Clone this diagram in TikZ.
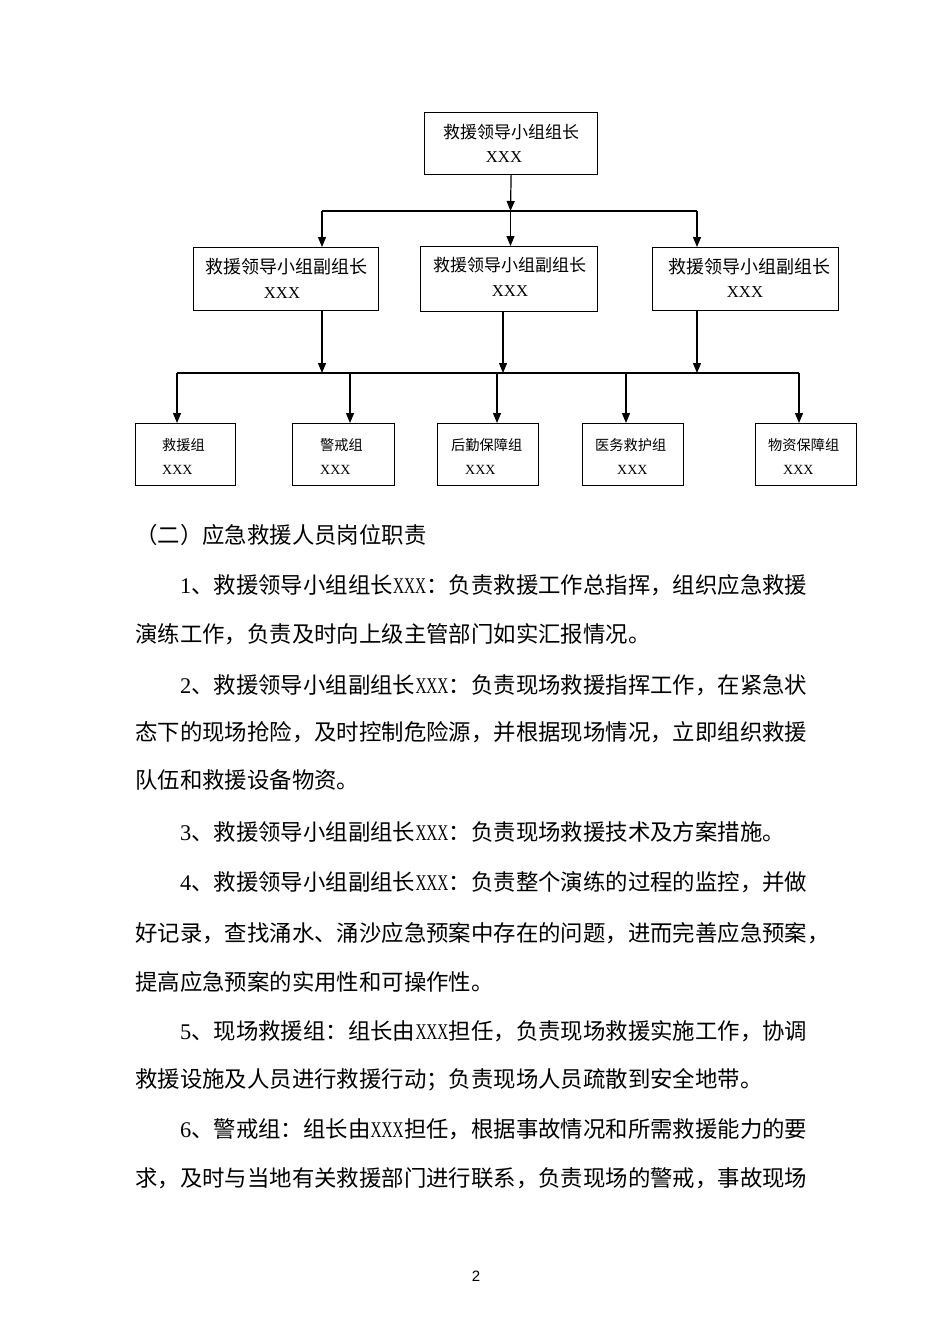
\documentclass[tikz,border=0pt]{standalone}
\usepackage{fontspec}
\usepackage{graphicx}
\setmainfont{Liberation Serif}
\newfontfamily\cjk{Noto Sans CJK SC}
\newfontfamily\pagefont{Liberation Sans}
\usetikzlibrary{arrows.meta}
\newcommand\hwd[1]{\makebox[0.5em]{\rmfamily #1}}
\newcommand\XXX{\makebox[1.5em]{\scalebox{0.68}[1]{\rmfamily XXX}}}
\begin{document}
\begin{tikzpicture}[x=1pt,y=-1pt,
  box/.style={draw,line width=1.2pt,inner sep=0pt,anchor=north west},
  conn/.style={line width=1.2pt},
  arr/.style={conn,-{Triangle[length=10pt,width=8pt]}},
  lbig/.style={inner sep=0pt,font=\cjk\fontsize{17}{20}\selectfont},
  lxbig/.style={inner sep=0pt,font=\rmfamily\fontsize{16.7}{20}\selectfont},
  lsmall/.style={inner sep=0pt,anchor=west,font=\cjk\fontsize{14.2}{17}\selectfont},
  lxsmall/.style={inner sep=0pt,anchor=west,font=\rmfamily\fontsize{14}{17}\selectfont},
  body/.style={anchor=base west,inner sep=0pt,font=\cjk\fontsize{22.4}{26}\selectfont},
]
\useasboundingbox (0,0) rectangle (950,1344);

% ---------- level 1 ----------
\node[box,minimum width=173pt,minimum height=62pt] (top) at (424,112) {};
\node[lbig] (topt) at (511,132) {救援领导小组组长};
\node[lxbig] (topx) at (504,157) {XXX};

% ---------- level 2 ----------
\node[box,minimum width=185pt,minimum height=63pt] (v1) at (193,247) {};
\node[box,minimum width=177pt,minimum height=65pt] (v2) at (420,246) {};
\node[box,minimum width=186pt,minimum height=63pt] (v3) at (652,247) {};
\node[lbig,font=\cjk\fontsize{18}{20}\selectfont] (v1t) at (286,267) {救援领导小组副组长};
\node[lxbig] (v1x) at (282,293) {XXX};
\node[lbig] (v2t) at (509.5,265) {救援领导小组副组长};
\node[lxbig] (v2x) at (510,291) {XXX};
\node[lbig,font=\cjk\fontsize{18}{20}\selectfont] (v3t) at (749,267) {救援领导小组副组长};
\node[lxbig] (v3x) at (745,292) {XXX};

% ---------- level 3 ----------
\node[box,minimum width=100pt,minimum height=62pt] (b1) at (135,423) {};
\node[box,minimum width=102pt,minimum height=62pt] (b2) at (292,423) {};
\node[box,minimum width=101pt,minimum height=62pt] (b3) at (437,423) {};
\node[box,minimum width=101pt,minimum height=62pt] (b4) at (582,423) {};
\node[box,minimum width=101pt,minimum height=62pt] (b5) at (755,423) {};
\node[lsmall] (b1t) at (162,445) {救援组};
\node[lxsmall] (b1x) at (162,470) {XXX};
\node[lsmall] (b2t) at (320,445) {警戒组};
\node[lxsmall] (b2x) at (320,470) {XXX};
\node[lsmall] (b3t) at (451,445) {后勤保障组};
\node[lxsmall] (b3x) at (465,470) {XXX};
\node[lsmall] (b4t) at (595,445) {医务救护组};
\node[lxsmall] (b4x) at (617,470) {XXX};
\node[lsmall] (b5t) at (768,445) {物资保障组};
\node[lxsmall] (b5x) at (783,470) {XXX};

% ---------- connectors ----------
\coordinate (j1) at (510.5,211);
\coordinate (j1l) at (322,211);
\coordinate (j1r) at (697,211);
\draw[arr] (top.south) -- (j1);
\draw[conn] (j1l) -- (j1r);
\draw[arr] (j1l) -- (j1l |- v1.north);
\draw[arr] (j1) -- (j1 |- v2.north);
\draw[arr] (j1r) -- (j1r |- v3.north);

\coordinate (k1) at (322,373);
\coordinate (k2) at (503,373);
\coordinate (k3) at (697,373);
\coordinate (kl) at (177,373);
\coordinate (kr) at (799,373);
\draw[arr] (v1.south -| k1) -- (k1);
\draw[arr] (v2.south -| k2) -- (k2);
\draw[arr] (v3.south -| k3) -- (k3);
\draw[conn] (kl) -- (kr);
\coordinate (d2) at (350,373);
\coordinate (d3) at (497,373);
\coordinate (d4) at (626,373);
\draw[arr] (kl) -- (kl |- b1.north);
\draw[arr] (d2) -- (d2 |- b2.north);
\draw[arr] (d3) -- (d3 |- b3.north);
\draw[arr] (d4) -- (d4 |- b4.north);
\draw[arr] (kr) -- (kr |- b5.north);

% ---------- body text ----------
\node[body] (h0) at (135,543.5) {（二）应急救援人员岗位职责};
\node[body] (l1) at (179.8,593.5) {\hwd{1}、救援领导小组组长\XXX{}：负责救援工作总指挥，组织应急救援};
\node[body] (l2) at (135,642.5) {演练工作，负责及时向上级主管部门如实汇报情况。};
\node[body] (l3) at (179.8,693.5) {\hwd{2}、救援领导小组副组长\XXX{}：负责现场救援指挥工作，在紧急状};
\node[body] (l4) at (135,740.5) {态下的现场抢险，及时控制危险源，并根据现场情况，立即组织救援};
\node[body] (l5) at (135,788.5) {队伍和救援设备物资。};
\node[body] (l6) at (179.8,840) {\hwd{3}、救援领导小组副组长\XXX{}：负责现场救援技术及方案措施。};
\node[body] (l7) at (179.8,890.5) {\hwd{4}、救援领导小组副组长\XXX{}：负责整个演练的过程的监控，并做};
\node[body] (l8) at (135,941.5) {好记录，查找涌水、涌沙应急预案中存在的问题，进而完善应急预案，};
\node[body] (l9) at (135,990) {提高应急预案的实用性和可操作性。};
\node[body] (l10) at (179.8,1039) {\hwd{5}、现场救援组：组长由\XXX{}担任，负责现场救援实施工作，协调};
\node[body] (l11) at (135,1087.5) {救援设施及人员进行救援行动；负责现场人员疏散到安全地带。};
\node[body] (l12) at (179.8,1137.5) {\hwd{6}、警戒组：组长由\XXX{}担任，根据事故情况和所需救援能力的要};
\node[body] (l13) at (135,1186.5) {求，及时与当地有关救援部门进行联系，负责现场的警戒，事故现场};

\node[inner sep=0pt,font=\pagefont\fontsize{15}{17}\selectfont] (pg) at (476,1276) {2};
\end{tikzpicture}
\end{document}
